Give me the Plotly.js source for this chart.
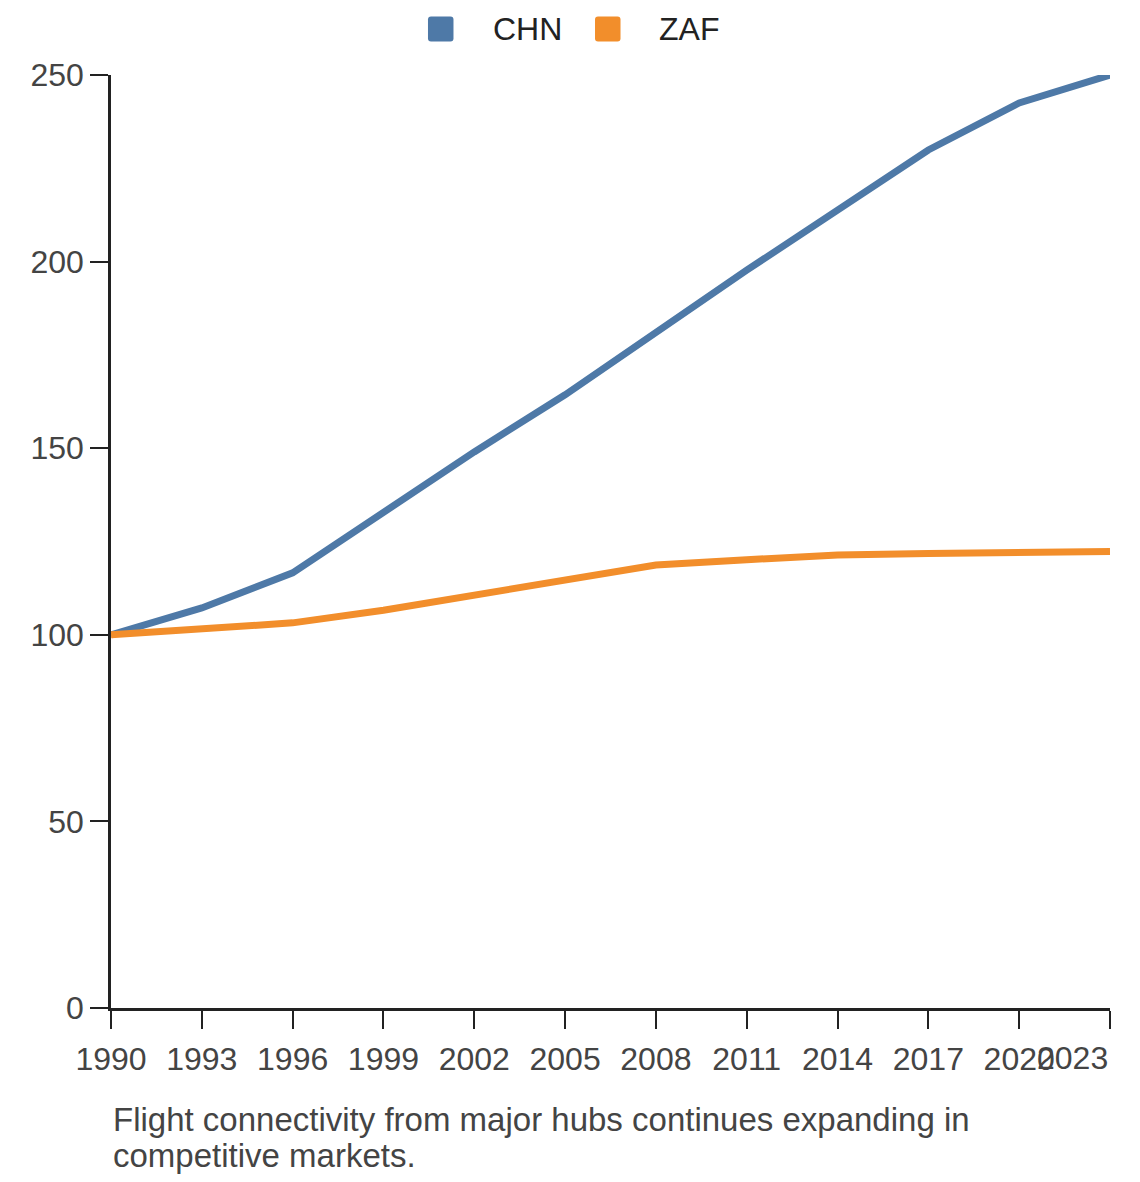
<!DOCTYPE html>
<html>
<head>
<meta charset="utf-8">
<script src="https://cdn.plot.ly/plotly-3.0.1.min.js"></script>
<style>
  html, body { margin: 0; padding: 0; background: #fff; }
  #chart { width: 1140px; height: 1182px; }
</style>
</head>
<body>
<div id="chart"></div>
<script>
// values
const years = [1990, 1993, 1996, 1999, 2002, 2005, 2008, 2011, 2014, 2017, 2020, 2023];
const chn = [100, 107.2, 116.6, 132.8, 149, 164.3, 181, 197.7, 213.8, 229.9, 242.5, 250];
const zaf = [100, 101.6, 103.2, 106.6, 110.7, 114.7, 118.7, 120.1, 121.4, 121.8, 122.1, 122.3];
const yTicks = [0, 50, 100, 150, 200, 250];
const seriesNames = ['CHN', 'ZAF'];
const colors = ['#4e79a7', '#f28e2b'];
const captionLines = ['Flight connectivity from major hubs continues expanding in', 'competitive markets.'];

const FONT = 'Liberation Sans, Arial, sans-serif';
const axisColor = '#222';
const tickFont = { family: FONT, size: 32, color: '#444' };

const traces = [chn, zaf].map((vals, i) => ({
    type: 'scatter',
    mode: 'lines',
    name: seriesNames[i],
    x: years,
    y: vals,
    line: { color: colors[i], width: 7 },
    showlegend: false,
    hoverinfo: 'x+y+name'
}));

// the last year label sits left of its tick, overlapping 2020 like the reference
const lastYear = years[years.length - 1];
const mainYears = years.slice(0, -1);

// hand made legend: rounded squares + labels
const legendX = [0.3173, 0.4845];
const legendTextX = [0.3804, 0.5465];
const legendY = 1.0493;
const shapes = seriesNames.map((n, i) => ({
    type: 'path',
    xref: 'paper', yref: 'paper',
    xsizemode: 'pixel', ysizemode: 'pixel',
    xanchor: legendX[i], yanchor: legendY,
    path: 'M3,-12.5 H22.5 Q25.5,-12.5 25.5,-9.5 V9.5 Q25.5,12.5 22.5,12.5 H3 Q0,12.5 0,9.5 V-9.5 Q0,-12.5 3,-12.5 Z',
    fillcolor: colors[i],
    line: { width: 0 }
}));
const annotations = seriesNames.map((n, i) => ({
    text: n,
    xref: 'paper', yref: 'paper',
    x: legendTextX[i], y: legendY,
    xanchor: 'left', yanchor: 'middle',
    showarrow: false,
    font: { family: FONT, size: 32, color: '#222' }
}));
annotations.push({
    text: String(lastYear),
    xref: 'x', yref: 'paper',
    x: lastYear, y: -0.0536,
    xanchor: 'right', yanchor: 'middle',
    showarrow: false,
    font: tickFont
});
// caption, one annotation per line to keep the tight line spacing
const captionY = [-0.1200, -0.1586];
captionLines.forEach((line, i) => {
    annotations.push({
        text: line,
        xref: 'paper', yref: 'paper',
        x: 0, y: captionY[i],
        xanchor: 'left', yanchor: 'middle',
        align: 'left',
        showarrow: false,
        font: { family: FONT, size: 33, color: '#444' }
    });
});

const layout = {
    width: 1140,
    height: 1182,
    margin: { l: 111, r: 30, t: 75, b: 174 },
    paper_bgcolor: '#fff',
    plot_bgcolor: '#fff',
    font: { family: FONT },
    showlegend: false,
    xaxis: {
        range: [1990, 2023],
        tickvals: years,
        ticktext: mainYears.map(String).concat(['']),
        ticks: 'outside',
        ticklen: 18,
        tickwidth: 2,
        tickcolor: axisColor,
        ticklabelstandoff: 3,
        showline: true,
        linecolor: axisColor,
        linewidth: 2.5,
        showgrid: false,
        zeroline: false,
        tickfont: tickFont,
        fixedrange: true
    },
    yaxis: {
        range: [0, 250],
        tickvals: yTicks,
        ticks: 'outside',
        ticklen: 18,
        tickwidth: 2,
        tickcolor: axisColor,
        showline: true,
        linecolor: axisColor,
        linewidth: 2.5,
        showgrid: false,
        zeroline: false,
        tickfont: tickFont,
        fixedrange: true
    },
    shapes: shapes,
    annotations: annotations
};

Plotly.newPlot('chart', traces, layout, { displayModeBar: false, responsive: false });
</script>
</body>
</html>
